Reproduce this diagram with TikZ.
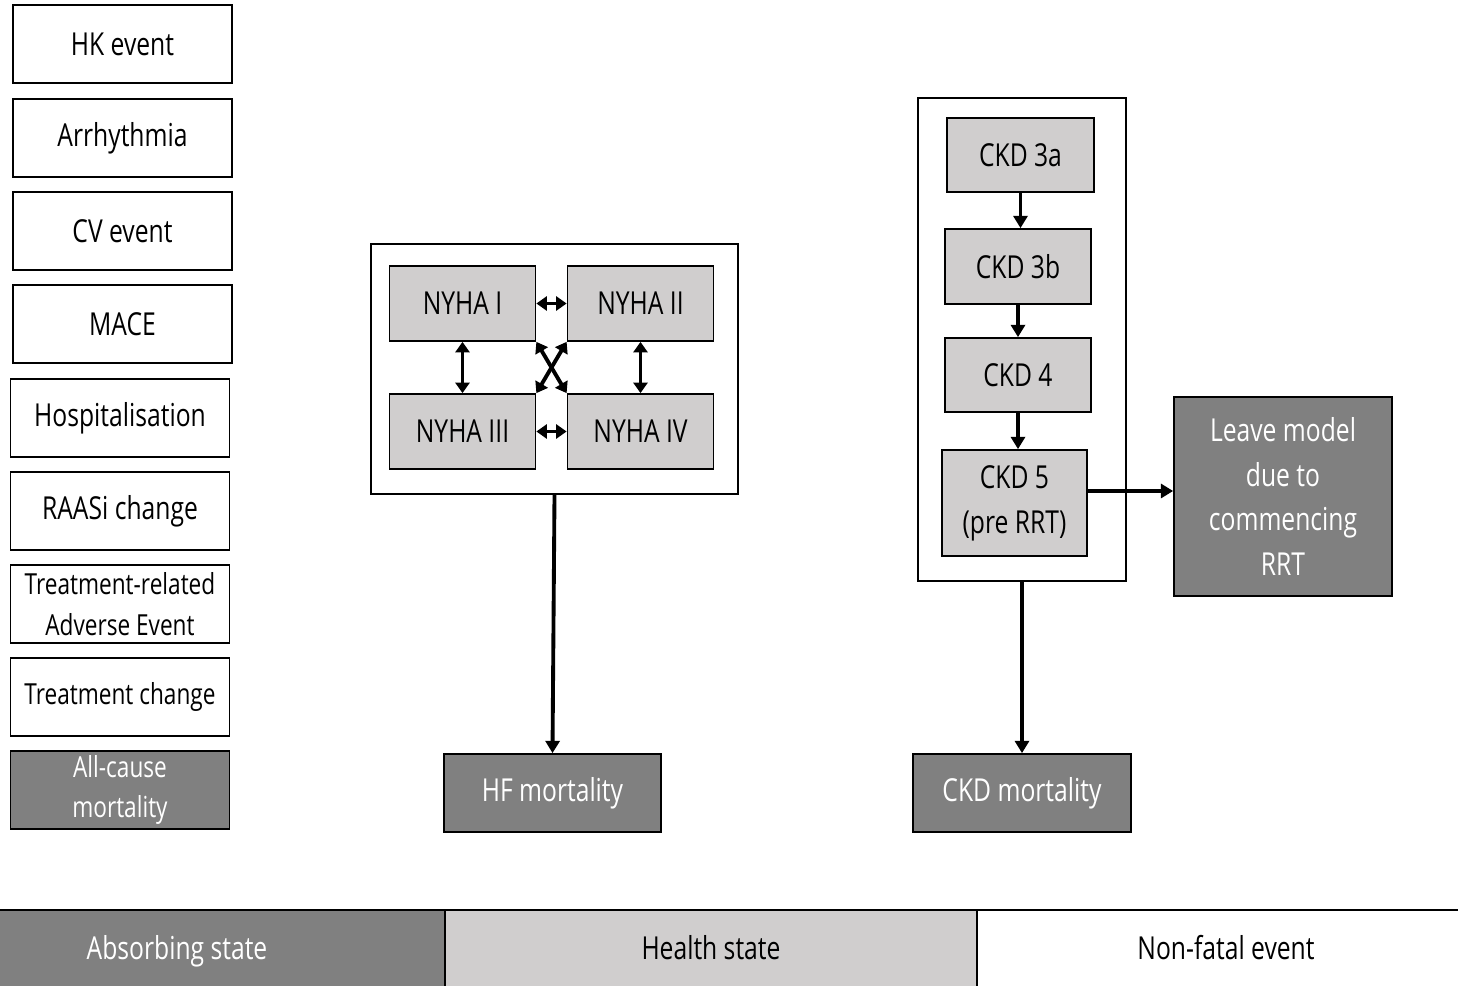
\documentclass[tikz,border=0pt]{standalone}
\usepackage{fontspec}
\setmainfont{Open Sans}[FakeStretch=0.78]
\definecolor{absgray}{RGB}{128,128,128}
\definecolor{hsgray}{RGB}{208,206,206}
\usetikzlibrary{arrows.meta,positioning}

\begin{document}
\begin{tikzpicture}[x=0.02cm, y=-0.02cm, font=\fontsize{18}{25.5}\selectfont,
  every node/.style={draw, line width=1pt, inner sep=2pt, align=center},
  evtbox/.style={fill=white, minimum width=4.38cm, minimum height=1.56cm},
  smalltxt/.style={font=\fontsize{16.5}{23}\selectfont},
  absbox/.style={fill=absgray, text=white},
  hsbox/.style={fill=hsgray, minimum width=2.92cm, minimum height=1.5cm},
  frame/.style={fill=white, line width=1.2pt},
  conn/.style={line width=2.2pt, -{Triangle[length=7pt,width=8pt]}},
  biconn/.style={line width=2.2pt, {Triangle[length=6pt,width=8pt]}-{Triangle[length=6pt,width=8pt]}}]
\useasboundingbox (0,0) rectangle (1458,986);
% Non-fatal events
\node[evtbox] (hk)    at (122.5,44)  {HK event};
\node[evtbox] (arr)   at (122.5,138) {Arrhythmia};
\node[evtbox] (cv)    at (122.5,231) {CV event};
\node[evtbox] (mace)  at (122.5,324) {MACE};
\node[evtbox] (hosp)  at (120,418)   {Hospitalisation};
\node[evtbox] (raasi) at (120,511)   {RAASi change};
\node[evtbox, smalltxt] (trae) at (120,604) {Treatment-related\\Adverse Event};
\node[evtbox, smalltxt] (trch) at (120,697) {Treatment change};
\node[evtbox, absbox, smalltxt] (acm) at (120,790) {All-cause\\mortality};
% Heart failure
\node[frame, minimum width=7.34cm, minimum height=5cm] (nyha) at (554.5,369) {};
\node[hsbox] (nyha1) at (462.5,303.5) {NYHA I};
\node[hsbox] (nyha2) at (640.5,303.5) {NYHA II};
\node[hsbox] (nyha3) at (462.5,431.5) {NYHA III};
\node[hsbox] (nyha4) at (640.5,431.5) {NYHA IV};
\draw[biconn] (nyha1) -- (nyha2);
\draw[biconn] (nyha3) -- (nyha4);
\draw[biconn] (nyha1) -- (nyha3);
\draw[biconn] (nyha2) -- (nyha4);
\draw[biconn] (nyha1.south east) -- (nyha4.north west);
\draw[biconn] (nyha2.south west) -- (nyha3.north east);
\node[absbox, minimum width=4.34cm, minimum height=1.56cm] (hfmort) at (552.5,793) {HF mortality};
\draw[conn] (nyha.south) -- (hfmort.north);
% CKD
\node[frame, minimum width=4.16cm, minimum height=9.66cm] (ckd) at (1022,339.5) {};
\node[hsbox, minimum width=2.94cm, minimum height=1.48cm] (ckd3a) at (1020.5,155) {CKD 3a};
\node[hsbox] (ckd3b) at (1018,266.5) {CKD 3b};
\node[hsbox, minimum height=1.48cm] (ckd4) at (1018,375) {CKD 4};
\node[hsbox, minimum width=2.9cm, minimum height=2.12cm] (ckd5) at (1014.5,503) {CKD 5\\(pre RRT)};
\draw[conn] (ckd3a.south) -- (ckd3a.south |- ckd3b.north);
\draw[conn] (ckd3b.south) -- (ckd4.north);
\draw[conn] (ckd4.south) -- (ckd4.south |- ckd5.north);
\node[absbox, minimum width=4.36cm, minimum height=3.98cm] (leave) at (1283,496.5) {Leave model\\due to\\commencing\\RRT};
\draw[conn] (ckd5.east |- 0,491) -- (leave.west |- 0,491);
\node[absbox, minimum width=4.36cm, minimum height=1.56cm] (ckdmort) at (1022,793) {CKD mortality};
\draw[conn] (ckd.south) -- (ckdmort.north);
% Legend
\node[absbox, minimum width=10.72cm, minimum height=1.6cm, text depth=0.1cm] (lgabs) at (177,950) {Absorbing state};
\node[fill=hsgray, minimum width=10.64cm, minimum height=1.6cm, text depth=0.1cm] (lghs) at (711,950) {Health state};
\node[fill=white, minimum width=9.96cm, minimum height=1.6cm, text depth=0.1cm] (lgevt) at (1226,950) {Non-fatal event};
\end{tikzpicture}
\end{document}
